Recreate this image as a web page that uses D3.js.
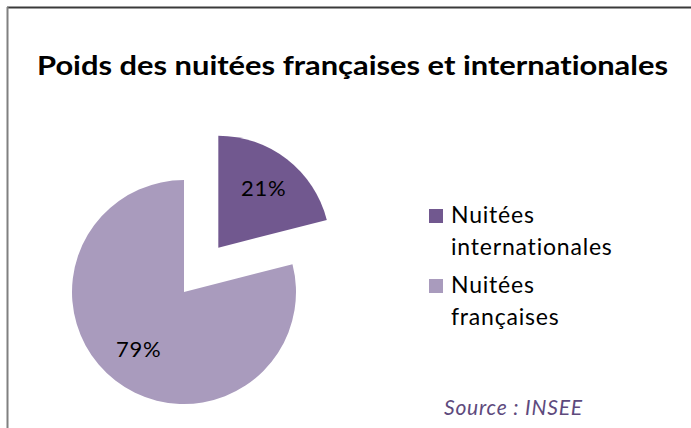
<!DOCTYPE html>
<html><head><meta charset="utf-8">
<script src="https://cdn.jsdelivr.net/npm/d3@7"></script>
<style>html,body{margin:0;padding:0;background:#fff}svg{display:block}text{font-variant-ligatures:none}</style>
</head><body>
<script>
const categories = ["Nuitées internationales", "Nuitées françaises"];
const values = [21, 79];
const labels = ["21%", "79%"];
const legendLines = [["Nuitées", "internationales"], ["Nuitées", "françaises"]];
const colors = ["#71588F", "#A99BBD"];
const title = "Poids des nuitées françaises et internationales";
const source = "Source : INSEE";

const W = 691, H = 428;
const svg = d3.select("body").append("svg").attr("width", W).attr("height", H);

// frame (top and left edges only)
svg.append("line").attr("x1", 7).attr("x2", W).attr("y1", 7.5).attr("y2", 7.5).attr("stroke", "#3a3a3a").attr("stroke-width", 2);
svg.append("line").attr("x1", 7.5).attr("x2", 7.5).attr("y1", 7).attr("y2", H).attr("stroke", "#808080").attr("stroke-width", 2);

svg.append("text").attr("x", 37).attr("y", 75)
  .attr("font-family", "Lato, sans-serif").attr("font-weight", "bold").attr("font-size", 27)
  .attr("textLength", 631).attr("lengthAdjust", "spacingAndGlyphs")
  .attr("fill", "#000").text(title);

const cx = 184, cy = 292, R = 112, explode = 56;
const pie = d3.pie().sort(null).value(d => d)(values);
const arc = d3.arc().innerRadius(0).outerRadius(R);
const labelArc = d3.arc().innerRadius(74).outerRadius(74);

const g = svg.append("g").attr("transform", `translate(${cx},${cy})`);
pie.forEach((p, i) => {
  const mid = (p.startAngle + p.endAngle) / 2;
  const off = i === 0 ? explode : 0;
  const dx = Math.sin(mid) * off, dy = -Math.cos(mid) * off;
  const sg = g.append("g").attr("transform", `translate(${dx},${dy})`);
  sg.append("path").attr("d", arc(p)).attr("fill", colors[i]);
  const c = labelArc.centroid(p);
  sg.append("text").attr("x", c[0]).attr("y", c[1] + 7)
    .attr("text-anchor", "middle").attr("font-family", "Lato, sans-serif").attr("font-size", 22)
    .attr("letter-spacing", 0.8).attr("fill", "#000").text(labels[i]);
});

// legend
const leg = svg.append("g");
const legY = [209, 279];
categories.forEach((c, i) => {
  leg.append("rect").attr("x", 429).attr("y", legY[i]).attr("width", 14).attr("height", 14).attr("fill", colors[i]);
  legendLines[i].forEach((t, j) => {
    leg.append("text").attr("x", 451).attr("y", legY[i] + 14 + j * 32)
      .attr("font-family", "Lato, sans-serif").attr("font-size", 23).attr("letter-spacing", 0.8)
      .attr("fill", "#000").text(t);
  });
});

svg.append("text").attr("x", 444).attr("y", 415)
  .attr("font-family", "Lato, sans-serif").attr("font-style", "italic").attr("font-size", 21)
  .attr("letter-spacing", 0.8).attr("fill", "#5E4A7D").text(source);
</script>
</body></html>
